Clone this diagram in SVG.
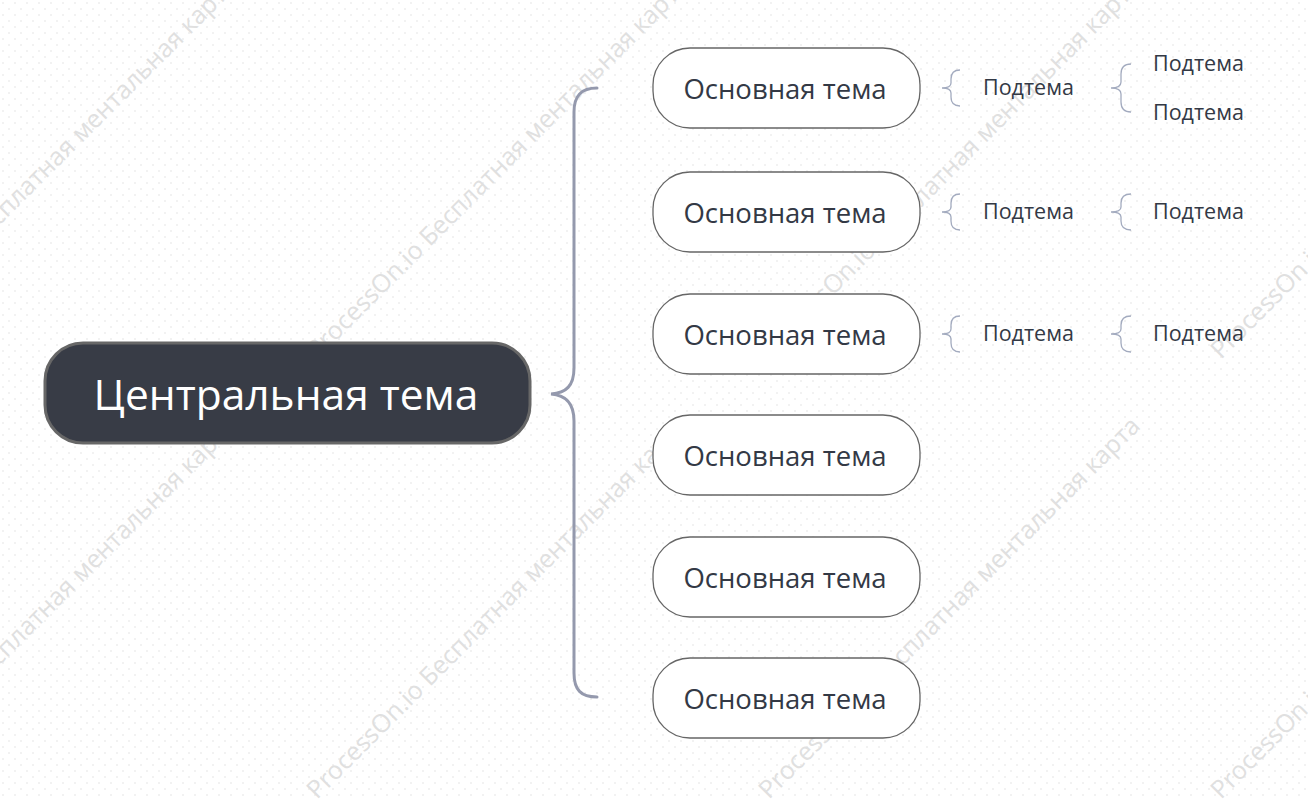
<svg xmlns="http://www.w3.org/2000/svg" width="1308" height="799" viewBox="0 0 1308 799">
<style>
.wm{font-family:"Open Sans","Noto Sans",sans-serif;font-size:25px;fill:#e0e0e0}
.main rect{fill:#ffffff;stroke:#666666;stroke-width:1.3}
.main text{font-family:"Open Sans","Noto Sans",sans-serif;font-size:27.5px;fill:#333945;text-anchor:middle}
.sub text{font-family:"Open Sans","Noto Sans",sans-serif;font-size:21.5px;fill:#333945}
.br{fill:none;stroke:#a3abbf;stroke-width:1.3}
.trunk{fill:none;stroke:#9499ad;stroke-width:3;stroke-linecap:round}
</style>
<defs>
<pattern id="dots" width="12" height="12" patternUnits="userSpaceOnUse">
<circle cx="3" cy="3" r="0.9" fill="#ececec"/>
<circle cx="9" cy="9" r="0.9" fill="#ececec"/>
</pattern>
</defs>
<rect x="0" y="0" width="1308" height="799" fill="#ffffff"/>
<rect x="0" y="0" width="1308" height="799" fill="url(#dots)"/>
<g id="watermark">
<text class="wm" transform="translate(-135,360) rotate(-45)">ProcessOn.io Бесплатная ментальная карта</text>
<text class="wm" transform="translate(317,360) rotate(-45)">ProcessOn.io Бесплатная ментальная карта</text>
<text class="wm" transform="translate(769,360) rotate(-45)">ProcessOn.io Бесплатная ментальная карта</text>
<text class="wm" transform="translate(1221,360) rotate(-45)">ProcessOn.io Бесплатная ментальная карта</text>
<text class="wm" transform="translate(-135,800) rotate(-45)">ProcessOn.io Бесплатная ментальная карта</text>
<text class="wm" transform="translate(317,800) rotate(-45)">ProcessOn.io Бесплатная ментальная карта</text>
<text class="wm" transform="translate(769,800) rotate(-45)">ProcessOn.io Бесплатная ментальная карта</text>
<text class="wm" transform="translate(1221,800) rotate(-45)">ProcessOn.io Бесплатная ментальная карта</text>
</g>
<g id="connectors">
<path class="trunk" d="M597,88 C581,88 574,96 574,112 L574,368 C574,386 566,393 551,394 C566,395 574,403 574,421 L574,673 C574,690 581,697 597,697"/>
<path class="br" d="M960,70 C953,70 951,74 951,79 L951,83 C951,86 948,88 942,88 C948,88 951,90 951,93 L951,97 C951,102 953,106 960,106"/>
<path class="br" d="M1131,64 C1124,64 1121,68 1121,74 L1121,82 C1121,86 1118,88 1111,88 C1118,88 1121,90 1121,94 L1121,102 C1121,108 1124,112 1131,112"/>
<path class="br" d="M960,194 C953,194 951,198 951,203 L951,207 C951,210 948,212 942,212 C948,212 951,214 951,217 L951,221 C951,226 953,230 960,230"/>
<path class="br" d="M1131,194 C1124,194 1121,198 1121,203 L1121,207 C1121,210 1118,212 1111,212 C1118,212 1121,214 1121,217 L1121,221 C1121,226 1124,230 1131,230"/>
<path class="br" d="M960,316 C953,316 951,320 951,325 L951,329 C951,332 948,334 942,334 C948,334 951,336 951,339 L951,343 C951,348 953,352 960,352"/>
<path class="br" d="M1131,316 C1124,316 1121,320 1121,325 L1121,329 C1121,332 1118,334 1111,334 C1118,334 1121,336 1121,339 L1121,343 C1121,348 1124,352 1131,352"/>
</g>
<g id="central">
<rect x="45" y="343" width="485" height="100" rx="38" fill="#383c46" stroke="#676767" stroke-width="3"/>
<text x="286" y="410" font-family="Open Sans, Noto Sans, sans-serif" font-size="42.5" fill="#ffffff" text-anchor="middle">Центральная тема</text>
</g>
<g id="main1" class="main"><rect x="653" y="48" width="267" height="80" rx="37"/><text x="785" y="99">Основная тема</text></g>
<g id="main2" class="main"><rect x="653" y="172" width="267" height="80" rx="37"/><text x="785" y="223">Основная тема</text></g>
<g id="main3" class="main"><rect x="653" y="294" width="267" height="80" rx="37"/><text x="785" y="345">Основная тема</text></g>
<g id="main4" class="main"><rect x="653" y="415" width="267" height="80" rx="37"/><text x="785" y="466">Основная тема</text></g>
<g id="main5" class="main"><rect x="653" y="537" width="267" height="80" rx="37"/><text x="785" y="588">Основная тема</text></g>
<g id="main6" class="main"><rect x="653" y="658" width="267" height="80" rx="37"/><text x="785" y="709">Основная тема</text></g>
<g id="sub1" class="sub"><text x="983" y="95">Подтема</text></g>
<g id="sub1a" class="sub"><text x="1153" y="71">Подтема</text></g>
<g id="sub1b" class="sub"><text x="1153" y="120">Подтема</text></g>
<g id="sub2" class="sub"><text x="983" y="219">Подтема</text></g>
<g id="sub2a" class="sub"><text x="1153" y="219">Подтема</text></g>
<g id="sub3" class="sub"><text x="983" y="341">Подтема</text></g>
<g id="sub3a" class="sub"><text x="1153" y="341">Подтема</text></g>
</svg>
